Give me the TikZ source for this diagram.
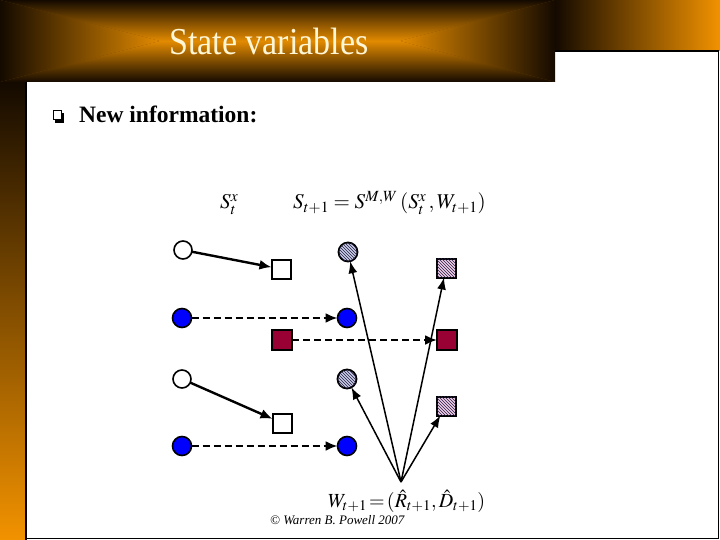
\documentclass[tikz,border=0pt]{standalone}
\usepackage{mathptmx}
\usepackage[no-math]{fontspec}
\setmainfont{Liberation Serif}
\usetikzlibrary{arrows.meta,patterns}
\definecolor{dk}{RGB}{20,10,0}
\definecolor{orng}{RGB}{226,138,0}
\definecolor{orbright}{RGB}{242,146,0}
\definecolor{titlecol}{RGB}{255,246,214}
\definecolor{crimson}{RGB}{153,0,51}
\definecolor{hatchblue}{RGB}{200,205,230}
\definecolor{hatchpink}{RGB}{240,205,230}
\definecolor{hatchline}{RGB}{40,30,70}
\tikzset{
  base/.style={draw=black, inner sep=0pt, outer sep=0pt},
  wcirc/.style={base, circle, line width=1.6pt, minimum size=18pt, fill=white},
  bcirc/.style={base, circle, line width=1.6pt, minimum size=19pt, fill=blue},
  hcirc/.style={base, circle, line width=1.8pt, minimum size=19pt, fill=hatchblue,
     postaction={pattern=north west lines, pattern color=hatchline}},
  wsq/.style={base, rectangle, line width=2pt, minimum size=19pt, fill=white},
  rsq/.style={base, rectangle, line width=2pt, minimum size=20pt, fill=crimson},
  hsq/.style={base, rectangle, line width=2pt, minimum size=19pt, fill=hatchpink,
     postaction={pattern=north west lines, pattern color=hatchline}},
  solidarr/.style={line width=2.4pt, -{Latex[length=12pt,width=10pt]}},
  dasharr/.style={line width=2.2pt, dash pattern=on 7pt off 4pt, -{Latex[length=12pt,width=10pt]}},
  thinarr/.style={line width=1.5pt, -{Latex[length=12pt,width=9pt]}},
  lbl/.style={inner sep=0pt, anchor=base west}
}
\begin{document}
\begin{tikzpicture}[x=1pt,y=-1pt]
\useasboundingbox (0,0) rectangle (720,540);
% white page
\fill[white] (0,0) rectangle (720,540);
% top right band
\shade[left color=dk, right color=orbright] (555,0) rectangle (720,51);
% left bar
\shade[top color=dk, bottom color=orbright] (0,82) rectangle (26,540);
% title band (rectangular gradient)
\fill[orng!45!dk] (0,0) rectangle (555,82);
\shade[top color=dk, bottom color=orng] (0,0) -- (555,0) -- (400,41) -- (160,41) -- cycle;
\shade[top color=orng, bottom color=dk] (0,82) -- (555,82) -- (400,41) -- (160,41) -- cycle;
\shade[left color=dk, right color=orng] (0,0) -- (160,41) -- (0,82) -- cycle;
\shade[left color=orng, right color=dk] (555,0) -- (400,41) -- (555,82) -- cycle;
% frame lines
\draw[line width=1.5pt, black] (555,51) -- (718.5,51) -- (718.5,538.5) -- (26,538.5);
\draw[line width=1.5pt, black] (26,82) -- (26,540);
% title
\node[inner sep=0pt, anchor=base, text=titlecol, yscale=1.12, font=\fontsize{34}{34}\selectfont] (title) at (269,55) {State variables};
% bullet
\fill[black] (55,113) rectangle (64,123);
\draw[black, line width=1pt, fill=white] (53,111) rectangle (61.5,120);
\node[lbl, font=\fontsize{23.5}{24}\selectfont\bfseries] (newinfo) at (79,123) {New information:};
% formulas
\node[lbl, font=\fontsize{21}{21}\selectfont] (sx) at (220,209) {$S^x_t$};
\node[lbl, font=\fontsize{21}{21}\selectfont] (trans) at (293,209) {$S_{t+1} = S^{M,W}\,(S^x_t\,,W_{t+1})$};
\node[lbl, font=\fontsize{20}{20}\selectfont] (wform) at (328,507) {$W_{t+1}\mskip-2mu=\mskip-2mu(\hat{R}_{t+1},\hat{D}_{t+1})$};
\node[lbl, font=\fontsize{13}{13}\selectfont\itshape] (copy) at (270,524) {\textcopyright{} Warren B. Powell 2007};
% nodes
\node[wcirc] (c1) at (183,250) {};
\node[wsq] (s1) at (281,269) {};
\node[hcirc] (h1) at (348,252) {};
\node[hsq] (hs1) at (446,268) {};
\node[bcirc] (b1) at (182,318) {};
\node[bcirc] (b2) at (347,318) {};
\node[rsq] (r1) at (282,340) {};
\node[rsq] (r2) at (447,340) {};
\node[wcirc] (c2) at (182,379) {};
\node[hcirc] (h2) at (347,379) {};
\node[wsq] (s2) at (282,423) {};
\node[hsq] (hs2) at (446,406) {};
\node[bcirc] (b3) at (182,446) {};
\node[bcirc] (b4) at (347,446) {};
\coordinate (w) at (401,482);
% connectors
\draw[solidarr] (c1) -- (s1);
\draw[solidarr] (c2) -- (s2);
\draw[dasharr] (b1) -- (b2);
\draw[dasharr] (r1) -- (r2);
\draw[dasharr] (b3) -- (b4);
\draw[thinarr] (w) -- (h1);
\draw[thinarr] (w) -- (hs1);
\draw[thinarr] (w) -- (h2);
\draw[thinarr] (w) -- (hs2);
\end{tikzpicture}
\end{document}
